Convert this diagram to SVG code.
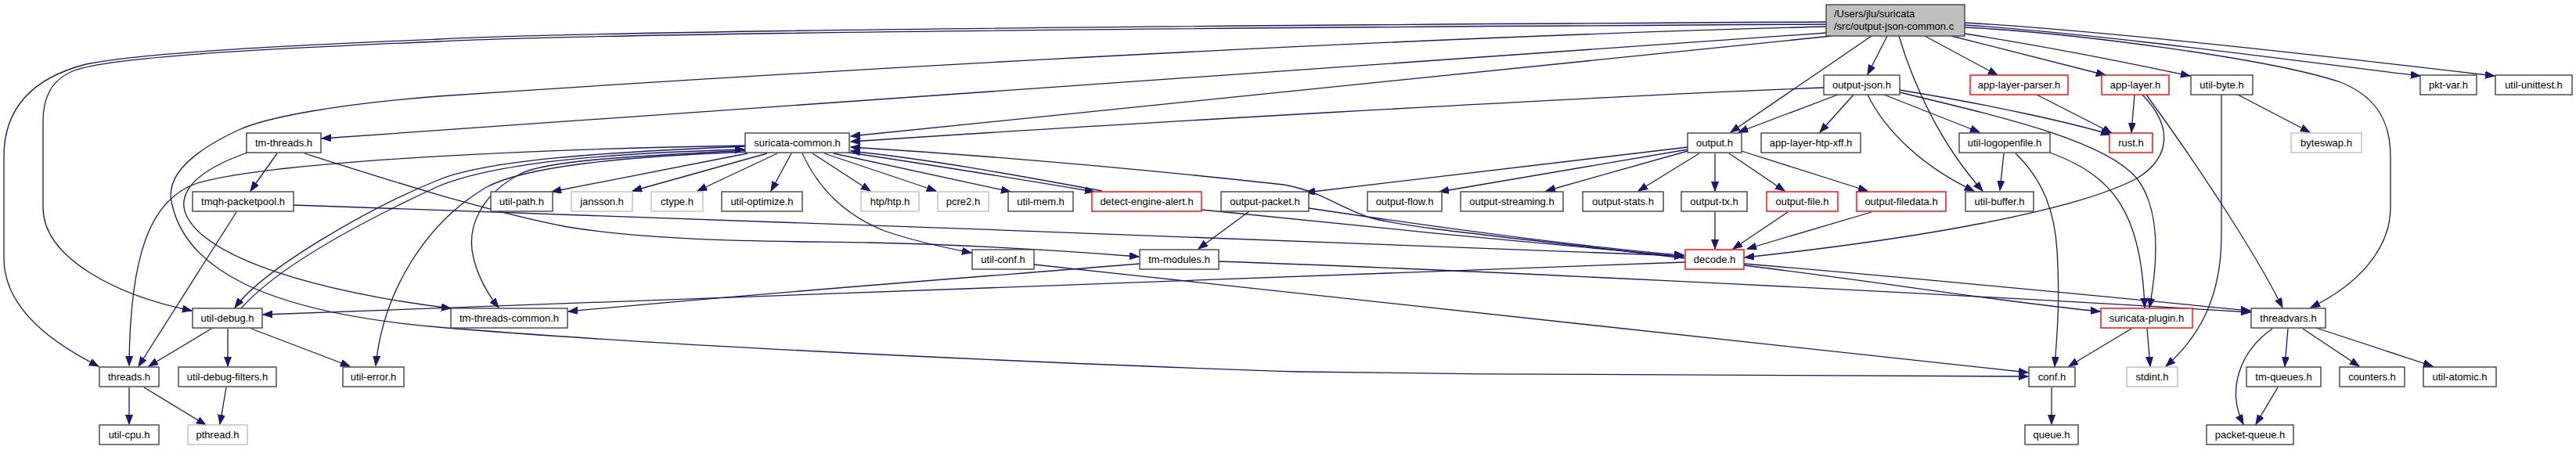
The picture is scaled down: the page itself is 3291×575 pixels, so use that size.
<svg xmlns="http://www.w3.org/2000/svg" width="3291" height="575" viewBox="0 0 3291 575">
<style>
rect{fill:#fff;stroke:#404040;stroke-width:1.4}
.r rect{stroke:#ff0000}
.g rect{stroke:#bfbfbf}
.root rect{fill:#bfbfbf;stroke:#404040}
text{font-family:"Liberation Sans",Arial,sans-serif;font-size:13px;fill:#000;text-anchor:middle}
.root text{text-anchor:start}
#edges path{fill:none;stroke:#191970;stroke-width:1.3;marker-end:url(#a)}
</style>
<defs>
<marker id="a" markerUnits="userSpaceOnUse" markerWidth="14" markerHeight="11" refX="12" refY="4.5" orient="auto">
<path d="M0,0 L12,4.5 L0,9 z" fill="#191970" stroke="#191970" stroke-width="1"/>
</marker>
</defs>
<rect x="0" y="0" width="3291" height="575" style="fill:#fff;stroke:none"/>
<g id="edges">
<path d="M2333,28 C1600,32 800,38 560,50 C400,57 190,66 110,82 C40,100 5,140 5,200 L5,330 C5,395 70,440 126,468"/>
<path d="M2333,31 C1600,35 800,41 560,53 C400,60 150,70 95,90 C65,102 55,125 55,155 L55,265 C55,330 150,378 245,397"/>
<path d="M2334,34 C1700,50 900,100 560,123 C430,133 340,150 305,166 C240,196 210,228 220,262 C238,340 330,398 560,418 C900,447 1500,470 1660,475 C2000,480 2400,481 2591,481"/>
<path d="M2333,42 L411,177"/>
<path d="M2340,46 L1087,174"/>
<path d="M2330,112 C2000,125 1400,160 1087,181"/>
<path d="M952,186 C700,190 350,205 252,234 C190,255 166,330 165,467"/>
<path d="M952,187 C760,195 620,205 560,230 C480,262 340,340 300,393"/>
<path d="M308,394 C360,335 480,275 560,238 C640,205 800,195 951,191"/>
<path d="M955,194 C800,200 670,212 620,240 C545,285 490,370 480,467"/>
<path d="M955,192 C800,200 700,205 665,222 C615,248 595,290 605,330 C612,358 625,378 637,393"/>
<path d="M955,196 L705,245"/>
<path d="M980,196 L808,244"/>
<path d="M993,196 L891,244"/>
<path d="M1011,196 L985,244"/>
<path d="M1025,196 C1045,240 1080,275 1130,295 C1170,309 1210,317 1241,323"/>
<path d="M1038,196 L1112,244"/>
<path d="M1053,196 L1196,244"/>
<path d="M1065,196 L1291,245"/>
<path d="M1078,194 C1200,212 1320,232 1398,245"/>
<path d="M1408,244 C1320,228 1200,205 1087,193"/>
<path d="M2152,330 C1950,305 1800,292 1750,278 C1710,265 1690,245 1640,236 C1450,215 1250,198 1087,188"/>
<path d="M375,262 C800,275 1700,310 2151,327"/>
<path d="M1535,268 C1700,285 2000,315 2151,328"/>
<path d="M1672,266 C1800,285 2000,314 2151,326"/>
<path d="M1596,270 L1531,318"/>
<path d="M354,196 L320,244"/>
<path d="M316,195 C240,222 210,258 258,300 C320,352 470,381 576,394"/>
<path d="M389,196 C480,225 620,270 725,290 C850,310 1000,308 1110,310 C1250,313 1380,322 1455,328"/>
<path d="M302,271 L177,468"/>
<path d="M270,420 L190,468"/>
<path d="M291,420 L291,468"/>
<path d="M321,420 L447,468"/>
<path d="M165,495 L165,542"/>
<path d="M184,495 L263,543"/>
<path d="M289,495 L281,542"/>
<path d="M2153,335 L336,402"/>
<path d="M1456,337 C1300,350 1000,372 726,398"/>
<path d="M1557,334 C1800,342 2400,370 2875,399"/>
<path d="M2228,337 C2500,360 2750,385 2875,397"/>
<path d="M2228,339 C2400,360 2560,386 2683,398"/>
<path d="M2737,121 C2775,160 2775,200 2730,228 C2650,270 2450,305 2229,329"/>
<path d="M2742,121 C2800,200 2880,320 2916,393"/>
<path d="M2727,121 L2723,169"/>
<path d="M2602,121 L2698,170"/>
<path d="M2427,115 C2550,135 2650,158 2696,172"/>
<path d="M2427,118 C2560,150 2690,180 2730,228 C2762,270 2756,340 2746,393"/>
<path d="M2619,195 C2700,225 2735,270 2740,393"/>
<path d="M2560,196 L2555,243"/>
<path d="M2575,196 C2610,230 2625,270 2628,320 C2632,380 2628,430 2625,468"/>
<path d="M1321,338 C1800,390 2300,445 2591,476"/>
<path d="M2723,420 L2643,468"/>
<path d="M2743,420 L2747,468"/>
<path d="M2838,121 L2838,300 C2838,380 2810,430 2767,468"/>
<path d="M2859,121 L2951,169"/>
<path d="M2923,420 L2919,468"/>
<path d="M2942,420 L3014,468"/>
<path d="M2959,419 L3108,468"/>
<path d="M2903,420 C2860,450 2845,500 2866,542"/>
<path d="M2910,495 L2882,542"/>
<path d="M2621,495 L2621,542"/>
<path d="M2510,35 C2650,42 2900,75 2990,105 C3040,125 3054,160 3054,200 L3054,265 C3054,320 3010,365 2952,393"/>
<path d="M2510,32 C2700,45 2950,80 3092,97"/>
<path d="M2510,29 C2700,40 3000,75 3187,97"/>
<path d="M2510,43 C2650,65 2740,85 2798,97"/>
<path d="M2493,46 L2690,96"/>
<path d="M2459,46 L2552,96"/>
<path d="M2411,46 L2386,95"/>
<path d="M2391,46 L2211,169"/>
<path d="M2426,46 C2445,110 2480,185 2533,244"/>
<path d="M2348,121 L2221,169"/>
<path d="M2368,121 L2325,169"/>
<path d="M2386,121 C2410,170 2460,215 2522,244"/>
<path d="M2407,121 L2529,169"/>
<path d="M2156,188 L1668,246"/>
<path d="M2156,191 L1839,245"/>
<path d="M2156,193 L1975,244"/>
<path d="M2171,196 L2093,244"/>
<path d="M2191,196 L2191,244"/>
<path d="M2209,196 L2280,244"/>
<path d="M2225,193 L2386,244"/>
<path d="M2191,271 L2191,318"/>
<path d="M2284,271 L2214,318"/>
<path d="M2391,271 L2232,318"/>
</g>
<g id="n-root" class="root"><rect x="2333" y="6" width="177" height="40"/><text x="2343" y="22">/Users/jlu/suricata</text><text x="2343" y="38">/src/output-json-common.c</text></g>
<g id="n-output-json"><rect x="2330" y="96" width="97" height="25"/><text x="2378.5" y="113">output-json.h</text></g>
<g id="n-app-layer-parser" class="r"><rect x="2517" y="96" width="125" height="25"/><text x="2579.5" y="113">app-layer-parser.h</text></g>
<g id="n-app-layer" class="r"><rect x="2685" y="96" width="86" height="25"/><text x="2728" y="113">app-layer.h</text></g>
<g id="n-util-byte"><rect x="2799" y="96" width="79" height="25"/><text x="2838.5" y="113">util-byte.h</text></g>
<g id="n-pkt-var"><rect x="3092" y="96" width="72" height="25"/><text x="3128" y="113">pkt-var.h</text></g>
<g id="n-util-unittest"><rect x="3188" y="96" width="98" height="25"/><text x="3237" y="113">util-unittest.h</text></g>
<g id="n-tm-threads"><rect x="315" y="170" width="95" height="25"/><text x="362.5" y="187">tm-threads.h</text></g>
<g id="n-suricata-common"><rect x="952" y="170" width="133" height="25"/><text x="1018.5" y="187">suricata-common.h</text></g>
<g id="n-output"><rect x="2156" y="170" width="69" height="25"/><text x="2190.5" y="187">output.h</text></g>
<g id="n-app-layer-htp-xff"><rect x="2250" y="170" width="127" height="25"/><text x="2313.5" y="187">app-layer-htp-xff.h</text></g>
<g id="n-util-logopenfile"><rect x="2503" y="170" width="116" height="25"/><text x="2561" y="187">util-logopenfile.h</text></g>
<g id="n-rust" class="r"><rect x="2695" y="170" width="55" height="25"/><text x="2722.5" y="187">rust.h</text></g>
<g id="n-byteswap" class="g"><rect x="2927" y="170" width="90" height="25"/><text x="2972" y="187">byteswap.h</text></g>
<g id="n-tmqh-packetpool"><rect x="246" y="245" width="129" height="25"/><text x="310.5" y="262">tmqh-packetpool.h</text></g>
<g id="n-util-path"><rect x="627" y="245" width="79" height="25"/><text x="666.5" y="262">util-path.h</text></g>
<g id="n-jansson" class="g"><rect x="730" y="245" width="78" height="25"/><text x="769" y="262">jansson.h</text></g>
<g id="n-ctype" class="g"><rect x="832" y="245" width="66" height="25"/><text x="865" y="262">ctype.h</text></g>
<g id="n-util-optimize"><rect x="922" y="245" width="103" height="25"/><text x="973.5" y="262">util-optimize.h</text></g>
<g id="n-htp" class="g"><rect x="1100" y="245" width="74" height="25"/><text x="1137" y="262">htp/htp.h</text></g>
<g id="n-pcre2" class="g"><rect x="1198" y="245" width="65" height="25"/><text x="1230.5" y="262">pcre2.h</text></g>
<g id="n-util-mem"><rect x="1288" y="245" width="83" height="25"/><text x="1329.5" y="262">util-mem.h</text></g>
<g id="n-detect-engine-alert" class="r"><rect x="1395" y="245" width="140" height="25"/><text x="1465" y="262">detect-engine-alert.h</text></g>
<g id="n-output-packet"><rect x="1560" y="245" width="112" height="25"/><text x="1616" y="262">output-packet.h</text></g>
<g id="n-output-flow"><rect x="1747" y="245" width="95" height="25"/><text x="1794.5" y="262">output-flow.h</text></g>
<g id="n-output-streaming"><rect x="1866" y="245" width="131" height="25"/><text x="1931.5" y="262">output-streaming.h</text></g>
<g id="n-output-stats"><rect x="2022" y="245" width="103" height="25"/><text x="2073.5" y="262">output-stats.h</text></g>
<g id="n-output-tx"><rect x="2148" y="245" width="84" height="25"/><text x="2190" y="262">output-tx.h</text></g>
<g id="n-output-file" class="r"><rect x="2257" y="245" width="91" height="25"/><text x="2302.5" y="262">output-file.h</text></g>
<g id="n-output-filedata" class="r"><rect x="2372" y="245" width="114" height="25"/><text x="2429" y="262">output-filedata.h</text></g>
<g id="n-util-buffer"><rect x="2511" y="245" width="87" height="25"/><text x="2554.5" y="262">util-buffer.h</text></g>
<g id="n-util-conf"><rect x="1242" y="319" width="79" height="25"/><text x="1281.5" y="336">util-conf.h</text></g>
<g id="n-tm-modules"><rect x="1456" y="319" width="101" height="25"/><text x="1506.5" y="336">tm-modules.h</text></g>
<g id="n-decode" class="r"><rect x="2153" y="319" width="75" height="25"/><text x="2190.5" y="336">decode.h</text></g>
<g id="n-util-debug"><rect x="246" y="394" width="89" height="25"/><text x="290.5" y="411">util-debug.h</text></g>
<g id="n-tm-threads-common"><rect x="576" y="394" width="149" height="25"/><text x="650.5" y="411">tm-threads-common.h</text></g>
<g id="n-suricata-plugin" class="r"><rect x="2684" y="394" width="117" height="25"/><text x="2742.5" y="411">suricata-plugin.h</text></g>
<g id="n-threadvars"><rect x="2876" y="394" width="95" height="25"/><text x="2923.5" y="411">threadvars.h</text></g>
<g id="n-threads"><rect x="127" y="469" width="76" height="25"/><text x="165" y="486">threads.h</text></g>
<g id="n-util-debug-filters"><rect x="228" y="469" width="125" height="25"/><text x="290.5" y="486">util-debug-filters.h</text></g>
<g id="n-util-error"><rect x="438" y="469" width="78" height="25"/><text x="477" y="486">util-error.h</text></g>
<g id="n-conf"><rect x="2592" y="469" width="59" height="25"/><text x="2621.5" y="486">conf.h</text></g>
<g id="n-stdint" class="g"><rect x="2717" y="469" width="65" height="25"/><text x="2749.5" y="486">stdint.h</text></g>
<g id="n-tm-queues"><rect x="2870" y="469" width="95" height="25"/><text x="2917.5" y="486">tm-queues.h</text></g>
<g id="n-counters"><rect x="2989" y="469" width="83" height="25"/><text x="3030.5" y="486">counters.h</text></g>
<g id="n-util-atomic"><rect x="3096" y="469" width="93" height="25"/><text x="3142.5" y="486">util-atomic.h</text></g>
<g id="n-util-cpu"><rect x="127" y="543" width="76" height="25"/><text x="165" y="560">util-cpu.h</text></g>
<g id="n-pthread" class="g"><rect x="240" y="543" width="76" height="25"/><text x="278" y="560">pthread.h</text></g>
<g id="n-queue"><rect x="2587" y="543" width="68" height="25"/><text x="2621" y="560">queue.h</text></g>
<g id="n-packet-queue"><rect x="2819" y="543" width="111" height="25"/><text x="2874.5" y="560">packet-queue.h</text></g>
</svg>
